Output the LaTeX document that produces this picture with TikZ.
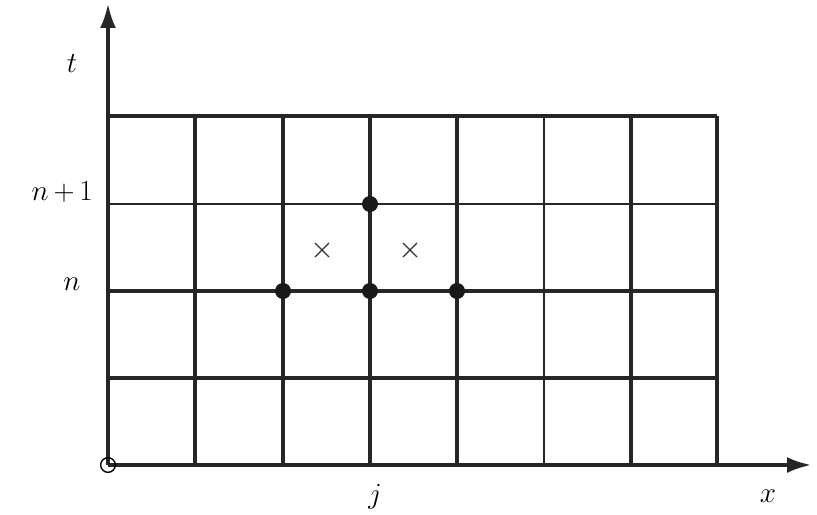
\documentclass[tikz,border=0pt]{standalone}
\usetikzlibrary{arrows.meta}
\begin{document}
\begin{tikzpicture}[x=0.03cm,y=-0.03cm,
  thickln/.style={line width=3.7pt,color=black!85},
  thinln/.style={line width=1.6pt,color=black!85},
  dotmark/.style={circle,fill=black!90,inner sep=0pt,minimum size=0.48cm},
  lbl/.style={font=\fontsize{27}{32}\selectfont,inner sep=0pt}]
\useasboundingbox (0,0) rectangle (817,515);
% thin lines
\draw[thinln] (108,204) -- (717,204);
\draw[thinln] (544,116) -- (544,465);
% thick lines
\foreach \yy in {116,291,378} \draw[thickln] (108,\yy) -- (717,\yy);
\foreach \xx in {195,283,370,457,631,717} \draw[thickln] (\xx,116) -- (\xx,465);
% axes
\draw[thickln,-{Latex[length=0.75cm,width=0.48cm]}] (108,465) -- (812,465);
\draw[thickln,-{Latex[length=0.75cm,width=0.48cm]}] (108,465) -- (108,3);
\draw[line width=1.2pt] (108,465) circle (0.22cm);
% dots
\node[dotmark] (d1) at (370,204) {};
\node[dotmark] (d2) at (283,291) {};
\node[dotmark] (d3) at (370,291) {};
\node[dotmark] (d4) at (457,291) {};
% crosses
\foreach \cx in {322,410}
  \draw[line width=1.1pt,black!80] (\cx-7,243) -- (\cx+7,257) (\cx-7,257) -- (\cx+7,243);
% labels
\node[lbl] (lt) at (72,64) {$t$};
\node[lbl,anchor=east] (ln1) at (93,192) {$n\mskip-1mu+\mskip-1mu1$};
\node[lbl] (ln) at (72,284) {$n$};
\node[lbl] (lj) at (375,497) {$j$};
\node[lbl] (lx) at (768,496) {$x$};
\end{tikzpicture}
\end{document}
